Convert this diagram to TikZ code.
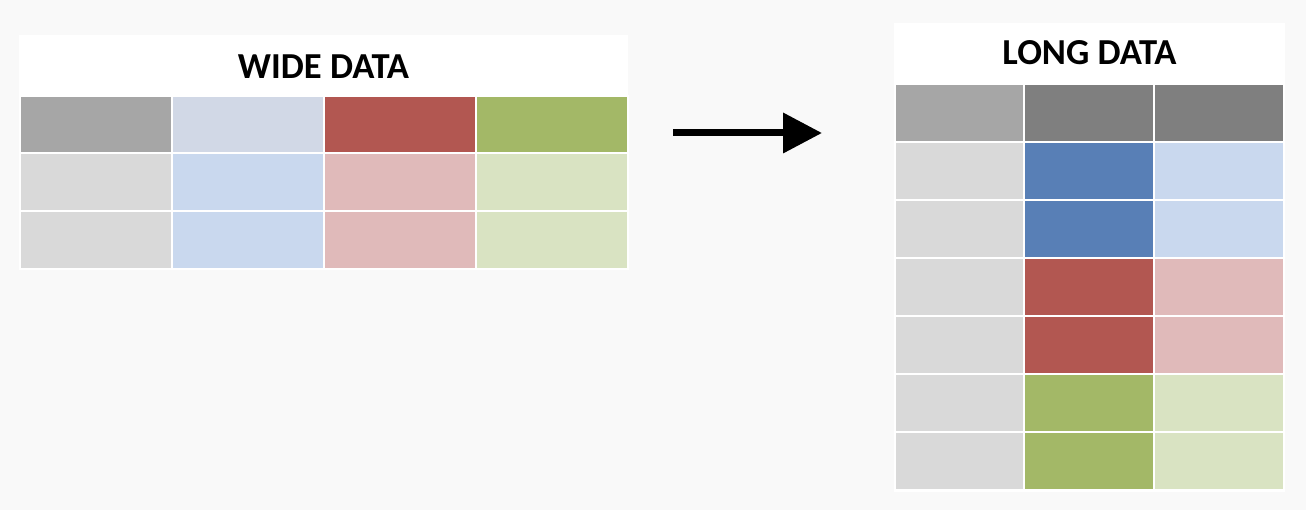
\documentclass[tikz,border=0pt]{standalone}
\usepackage{fontspec}
\setmainfont{Carlito}
\usetikzlibrary{arrows.meta}
\definecolor{bg}{HTML}{F9F9F9}
\definecolor{hgray}{HTML}{A6A6A6}
\definecolor{dgray}{HTML}{7F7F7F}
\definecolor{lgray}{HTML}{D9D9D9}
\definecolor{hblue}{HTML}{D1D8E6}
\definecolor{dblue}{HTML}{587FB6}
\definecolor{lblue}{HTML}{C9D8EE}
\definecolor{dred}{HTML}{B25751}
\definecolor{lred}{HTML}{E0BABA}
\definecolor{dgreen}{HTML}{A3B867}
\definecolor{lgreen}{HTML}{D9E3C2}
\tikzset{
  cell/.style={draw=white, line width=2pt, inner sep=0pt, outer sep=0pt, anchor=north west},
  panel/.style={fill=white, draw=none},
  title/.style={font=\fontsize{36.6}{40}\selectfont\bfseries, inner sep=0pt},
}
\begin{document}
\begin{tikzpicture}[x=1pt,y=-1pt]
\fill[bg] (0,0) rectangle (1306,510);
\useasboundingbox (0,0) rectangle (1306,510);
% wide panel
\fill[panel] (19,35) rectangle (628,270);
\node[title] (wt) at (323.5,67) {WIDE DATA};
\node[cell, fill=hgray, minimum width=152pt, minimum height=57pt] (wa1) at (19.5,96.5) {};
\node[cell, fill=hblue, minimum width=152pt, minimum height=57pt] (wb1) at (171.5,96.5) {};
\node[cell, fill=dred,  minimum width=152pt, minimum height=57pt] (wc1) at (323.5,96.5) {};
\node[cell, fill=dgreen,minimum width=152pt, minimum height=57pt] (wd1) at (475.5,96.5) {};
\foreach \n/\y in {2/153.5,3/211.5}{
  \node[cell, fill=lgray, minimum width=152pt, minimum height=58pt] (wa\n) at (19.5,\y) {};
  \node[cell, fill=lblue, minimum width=152pt, minimum height=58pt] (wb\n) at (171.5,\y) {};
  \node[cell, fill=lred,  minimum width=152pt, minimum height=58pt] (wc\n) at (323.5,\y) {};
  \node[cell, fill=lgreen,minimum width=152pt, minimum height=58pt] (wd\n) at (475.5,\y) {};
}
% arrow
\coordinate (as) at (673,133);
\coordinate (ae) at (822,133);
\draw[line width=7pt, -{Triangle[length=39pt,width=39pt]}] (as) -- (ae);
% long panel
\fill[panel] (894,23) rectangle (1285,492);
\node[title] (lt) at (1089.5,53) {LONG DATA};
\node[cell, fill=hgray, minimum width=130pt, minimum height=58pt] (la1) at (895,84) {};
\node[cell, fill=dgray, minimum width=130pt, minimum height=58pt] (lb1) at (1024,84) {};
\node[cell, fill=dgray, minimum width=130pt, minimum height=58pt] (lc1) at (1153.5,84) {};
\foreach \n/\dc/\lc in {2/dblue/lblue,3/dblue/lblue,4/dred/lred,5/dred/lred,6/dgreen/lgreen,7/dgreen/lgreen}{
  \pgfmathsetmacro{\yy}{84+(\n-1)*58}
  \node[cell, fill=lgray, minimum width=130pt, minimum height=58pt] (la\n) at (895,\yy) {};
  \node[cell, fill=\dc, minimum width=130pt, minimum height=58pt] (lb\n) at (1024,\yy) {};
  \node[cell, fill=\lc, minimum width=130pt, minimum height=58pt] (lc\n) at (1153.5,\yy) {};
}
\end{tikzpicture}
\end{document}
